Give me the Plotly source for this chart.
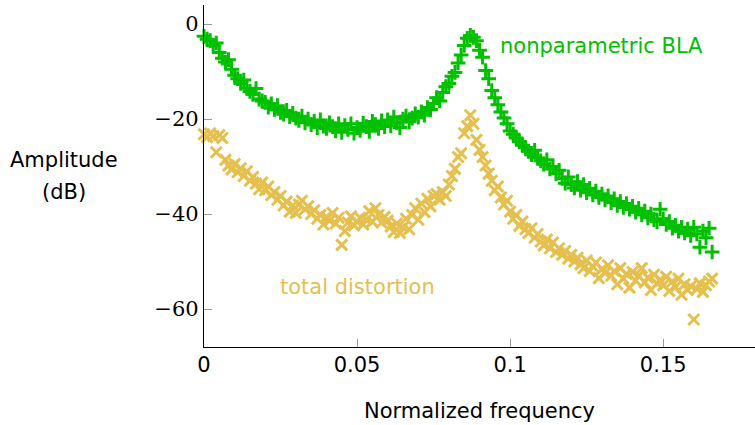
import plotly.graph_objects as go

# Frequency grid (normalized), one bin per 0.001
freq_bins = list(range(0, 167))
freq = [round(k * 0.001, 3) for k in freq_bins]

# Nonparametric BLA amplitude (dB)
bla_db = [
    -2.6, -3.2, -3.5, -4.5, -4.0, -6.0, -7.2, -8.0, -7.5, -9.5,
    -10.8, -11.5, -12.5, -11.8, -13.5, -14.2, -14.8, -13.6, -15.8, -16.2,
    -16.5, -17.5, -16.8, -18.0, -17.2, -18.6, -19.0, -18.2, -19.5, -18.8,
    -19.8, -20.3, -19.4, -20.8, -20.0, -21.2, -20.5, -21.8, -20.2, -21.5,
    -22.0, -20.8, -21.6, -22.5, -21.0, -22.8, -21.4, -22.2, -21.0, -23.0,
    -21.8, -22.4, -20.9, -21.6, -22.6, -20.5, -21.2, -22.0, -20.4, -21.6,
    -20.2, -21.4, -19.6, -20.8, -21.8, -20.0, -19.4, -20.6, -19.8, -18.9,
    -19.6, -18.5, -19.2, -17.6, -18.0, -16.8, -15.5, -16.2, -14.4, -13.2,
    -12.5, -11.0, -10.2, -8.2, -6.5, -4.5, -3.0, -2.4, -2.8, -3.5,
    -5.5, -7.0, -9.8, -11.5, -14.0, -15.5, -17.0, -18.5, -19.8, -21.0,
    -22.5, -23.2, -24.0, -24.8, -25.5, -26.0, -26.8, -27.5, -26.6, -28.2,
    -28.8, -29.5, -28.6, -30.5, -30.0, -31.5, -30.8, -32.5, -33.5, -32.2,
    -33.8, -34.5, -33.2, -35.0, -33.8, -35.5, -34.6, -36.0, -35.2, -36.5,
    -35.8, -37.0, -36.2, -37.6, -36.8, -38.2, -37.4, -38.6, -37.8, -39.0,
    -38.4, -39.6, -38.8, -40.2, -39.4, -40.8, -40.0, -41.2, -41.6, -39.0,
    -41.0, -42.2, -41.6, -43.0, -42.4, -43.6, -42.8, -44.0, -43.2, -44.5,
    -42.8, -44.2, -47.0, -43.6, -45.0, -43.0, -48.0,
]

# Total distortion amplitude (dB)
dist_db = [
    -23.2, -23.8, -23.0, -23.6, -27.0, -23.4, -24.0, -28.6, -29.8, -30.6,
    -29.5, -31.2, -30.4, -32.0, -31.0, -33.0, -32.2, -33.6, -34.8, -33.4,
    -35.0, -34.2, -36.0, -35.4, -37.0, -36.2, -38.2, -37.4, -39.5, -38.2,
    -39.8, -38.0, -37.2, -39.0, -38.4, -40.0, -39.2, -41.0, -40.2, -42.2,
    -40.6, -41.4, -39.8, -42.0, -40.8, -46.5, -43.6, -41.8, -40.5, -42.4,
    -41.6, -40.8, -42.2, -41.2, -39.4, -41.6, -38.8, -40.2, -41.8, -40.6,
    -41.4, -42.6, -43.8, -42.0, -44.0, -42.8, -41.0, -43.2, -40.2, -38.8,
    -41.2, -37.8, -39.6, -36.8, -38.4, -36.2, -35.8, -37.0, -35.4, -36.2,
    -33.8, -32.0, -30.5, -28.0, -27.2, -23.0, -21.5, -19.2, -21.0, -24.4,
    -26.5, -28.0, -29.8, -31.5, -33.0, -35.0, -34.2, -36.5, -38.0, -37.2,
    -39.5, -41.0, -40.2, -42.5, -41.6, -43.2, -44.0, -43.0, -45.0, -44.2,
    -45.8, -46.6, -45.4, -47.2, -46.0, -48.0, -47.2, -48.6, -47.8, -49.4,
    -48.6, -50.0, -49.2, -50.6, -51.4, -49.8, -52.0, -51.0, -50.2, -53.5,
    -51.6, -52.4, -50.8, -53.0, -52.0, -54.8, -51.4, -53.6, -52.6, -55.5,
    -52.2, -54.0, -53.0, -51.4, -54.4, -53.4, -56.0, -52.8, -54.6, -53.8,
    -55.0, -53.2, -56.2, -54.2, -55.4, -53.6, -57.0, -54.8, -56.0, -55.2,
    -62.2, -55.8, -54.6, -56.4, -55.0, -54.2, -53.6,
]

x_ticks = [0, 0.05, 0.1, 0.15]
x_tick_labels = ["0", "0.05", "0.1", "0.15"]
y_ticks = [0, -20, -40, -60]
y_tick_labels = ["0", "\u221220", "\u221240", "\u221260"]

GREEN = "#00C000"
YELLOW = "#E5C04F"
SANS = "DejaVu Sans"
SERIF = "DejaVu Serif"

fig = go.Figure()
fig.add_trace(go.Scatter(
    x=freq, y=dist_db, mode="markers", name="total distortion",
    marker=dict(symbol="x-thin", size=11, color=YELLOW,
                line=dict(color=YELLOW, width=3)),
    cliponaxis=False,
))
fig.add_trace(go.Scatter(
    x=freq, y=bla_db, mode="markers", name="nonparametric BLA",
    marker=dict(symbol="cross-thin", size=10.5, color=GREEN,
                line=dict(color=GREEN, width=3)),
    cliponaxis=False,
))

fig.add_annotation(x=0.130, y=-4.6, text="nonparametric BLA", showarrow=False,
                   font=dict(family=SANS, size=21, color=GREEN))
fig.add_annotation(x=0.050, y=-55.4, text="total distortion", showarrow=False,
                   font=dict(family=SANS, size=21, color=YELLOW))
fig.add_annotation(xref="paper", yref="paper", x=-0.254, y=0.547,
                   xanchor="center", yanchor="middle",
                   text="Amplitude", showarrow=False,
                   font=dict(family=SANS, size=21, color="black"))
fig.add_annotation(xref="paper", yref="paper", x=-0.254, y=0.453,
                   xanchor="center", yanchor="middle",
                   text="(dB)", showarrow=False,
                   font=dict(family=SANS, size=21, color="black"))

fig.update_layout(
    width=755, height=425,
    margin=dict(l=204, r=0, t=5, b=78),
    paper_bgcolor="white", plot_bgcolor="white",
    showlegend=False,
    xaxis=dict(
        range=[0, 0.18], tickvals=x_ticks, ticktext=x_tick_labels,
        ticks="inside", ticklen=8, tickcolor="#999999", tickwidth=1,
        ticklabelstandoff=-1,
        showgrid=False, zeroline=False, showline=True, linecolor="black",
        linewidth=1.2, tickfont=dict(family=SANS, size=21, color="black"),
        title=dict(text="Normalized frequency", standoff=27,
                   font=dict(family=SANS, size=21, color="black")),
    ),
    yaxis=dict(
        range=[-68, 4], tickvals=y_ticks, ticktext=y_tick_labels,
        ticks="inside", ticklen=8, tickcolor="#999999", tickwidth=1,
        showgrid=False, zeroline=False, showline=True, linecolor="black",
        linewidth=1.2, tickfont=dict(family=SERIF, size=21, color="black"),
    ),
)

fig.write_html("out.html", config={"displayModeBar": False},
               post_script="document.body.style.margin='0';")
